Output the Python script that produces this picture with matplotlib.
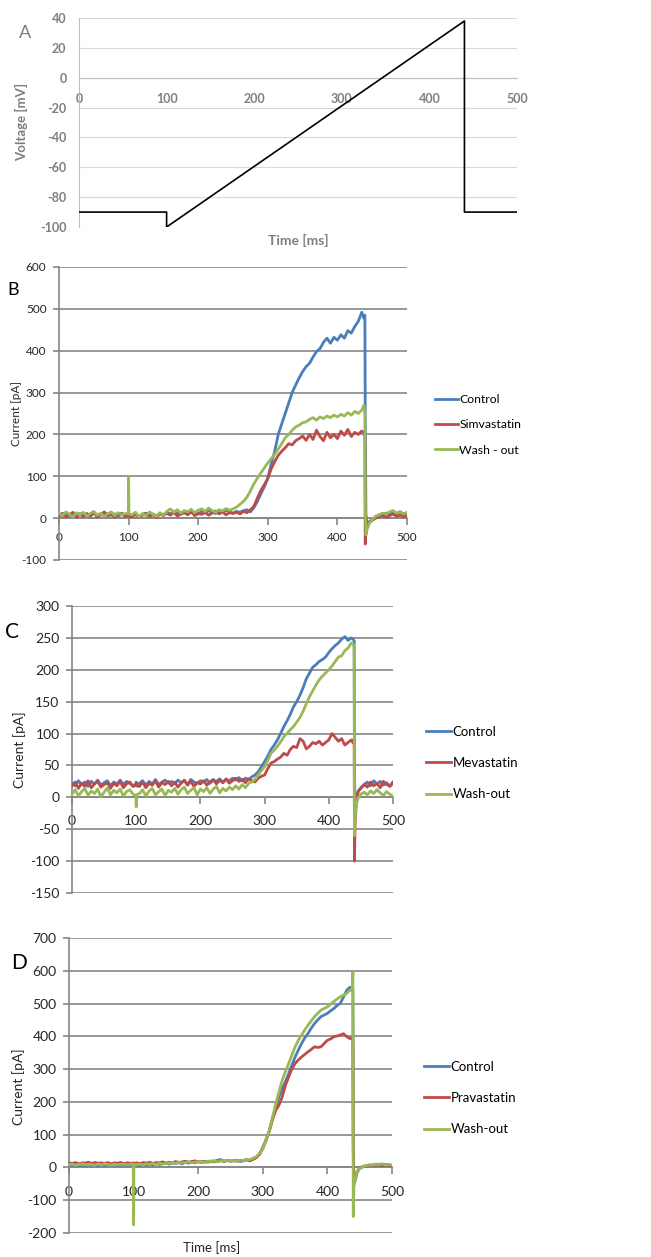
import matplotlib.pyplot as plt
import numpy as np

plt.rcParams['font.family'] = ['Lato', 'DejaVu Sans']
plt.rcParams['axes.unicode_minus'] = False

# ---- data ----
# voltage protocol (panel A)
volt_t = [0, 100, 100, 440, 440, 500]
volt_mv = [-90, -90, -100, 38, -90, -90]

# common time grid of the current traces (ms)
t_base = list(range(0, 100, 5))
t_spike = [99.5, 100, 100.5]
t_mid = list(range(105, 440, 5))
t_drop = [438, 439.5, 440, 441, 443, 446]
t_tail = list(range(450, 501, 5))
time_ms = t_base + t_spike + t_mid + t_drop + t_tail

# panel B
b_control = [10, 5, 12, 6, 9, 4, 11, 7, 10, 5, 12, 8, 9, 6, 11, 7, 10, 5, 9, 6,
             8, 10, 8,
             6, 10, 4, 9, 12, 7, 10, 5, 11, 8,
             14, 10, 16, 12, 9, 15, 11, 17, 13, 10,
             16, 12, 18, 14, 11, 17, 13, 19, 15, 12,
             16, 14, 18, 20, 15, 25, 40, 58, 75, 95,
             130, 160, 200, 225, 250, 275, 300, 318, 335, 350,
             362, 370, 385, 398, 405, 420, 430, 418, 432, 425,
             438, 430, 448, 442, 458, 470, 492,
             478, 485, 250, 10, -20, -8,
             -3, 2, 8, 5, 12, 9, 14, 10, 7, 11, 9]
b_simva = [5, 12, 3, 8, 14, 2, 9, 4, 11, 6, 13, 3, 8, 15, 5, 10, 2, 9, 12, 4,
           6, 8, 5,
           3, 9, 2, 7, 11, 4, 8, 1, 10, 6,
           12, 7, 14, 5, 10, 13, 8, 15, 6, 11,
           9, 14, 7, 12, 17, 10, 15, 8, 13, 11,
           14, 10, 16, 13, 20, 28, 48, 66, 80, 95,
           118, 135, 150, 160, 168, 178, 175, 185, 190, 196,
           186, 200, 188, 210, 195, 185, 205, 192, 200, 190,
           208, 198, 212, 195, 205, 200, 208,
           205, 195, -62, -30, -15, -10,
           -5, 0, 3, 8, 2, 6, 10, 4, 8, 3, 7]
b_wash = [12, 6, 15, 9, 3, 13, 8, 14, 5, 11, 16, 7, 12, 4, 10, 15, 6, 13, 8, 11,
          10, 97, 10,
          8, 14, 3, 11, 6, 15, 9, 4, 13, 7,
          16, 22, 14, 20, 12, 18, 15, 21, 13, 19,
          22, 16, 24, 18, 14, 20, 17, 23, 19, 22,
          26, 33, 40, 50, 65, 82, 95, 108, 120, 132,
          142, 152, 165, 178, 192, 200, 210, 218, 222, 228,
          230, 236, 240, 234, 242, 238, 244, 240, 246, 242,
          248, 244, 252, 246, 255, 250, 258,
          270, 250, 30, -40, -25, -12,
          -3, 5, 8, 12, 10, 15, 18, 12, 16, 10, 14]

# panel C
c_control = [22, 18, 26, 20, 24, 17, 25, 21, 27, 19, 23, 26, 18, 24, 21, 27, 20, 25, 22, 18,
             21, 24, 20,
             22, 26, 19, 25, 21, 28, 20, 24, 27, 22,
             25, 21, 27, 23, 26, 20, 28, 24, 22, 26,
             24, 28, 22, 27, 25, 29, 23, 28, 26, 30,
             27, 31, 26, 30, 28, 32, 35, 40, 48, 56,
             65, 75, 82, 90, 100, 111, 120, 130, 142, 150,
             160, 172, 186, 195, 204, 208, 213, 216, 220, 227,
             233, 238, 242, 248, 252, 246, 250,
             248, 245, 40, -20, 0, 10,
             15, 20, 24, 18, 26, 21, 25, 19, 23, 17, 22]
c_meva = [18, 24, 14, 22, 17, 26, 15, 21, 25, 16, 20, 23, 14, 22, 18, 25, 15, 21, 24, 17,
          19, 22, 18,
          17, 24, 15, 22, 19, 26, 16, 23, 20, 25,
          18, 24, 16, 22, 27, 19, 25, 17, 23, 21,
          26, 19, 24, 28, 21, 27, 23, 29, 22, 26,
          30, 25, 28, 23, 29, 26, 24, 30, 33, 35,
          45, 54, 56, 60, 63, 69, 66, 75, 80, 78,
          92, 88, 76, 80, 86, 84, 88, 82, 86, 90,
          100, 94, 88, 92, 82, 86, 90,
          85, 92, -100, -40, -5, 10,
          14, 20, 16, 24, 18, 22, 15, 25, 20, 18, 24]
c_wash = [5, 12, 2, 9, 14, 3, 10, 6, 13, 1, 8, 15, 4, 11, 7, 13, 2, 9, 12, 5,
          3, -15, 4,
          6, 12, 2, 10, 14, 4, 9, 13, 3, 11,
          8, 14, 5, 12, 16, 6, 11, 15, 4, 13,
          9, 15, 6, 13, 17, 7, 14, 10, 16, 12,
          18, 13, 20, 15, 22, 24, 28, 35, 42, 48,
          58, 69, 74, 80, 87, 95, 100, 106, 111, 118,
          125, 135, 147, 158, 167, 176, 184, 190, 195, 200,
          206, 213, 220, 222, 230, 234, 242,
          240, 236, -60, -30, -10, 0,
          5, 8, 4, 10, 6, 12, 7, 3, 9, 5, 2]

# panel D
d_control = [8, 5, 10, 6, 9, 4, 11, 7, 8, 5, 10, 6, 9, 7, 11, 5, 8, 10, 6, 9,
             8, 10, 7,
             9, 6, 11, 7, 10, 8, 12, 9, 11, 13,
             10, 14, 12, 15, 11, 16, 13, 17, 14, 18,
             15, 19, 16, 20, 17, 22, 24, 18, 21, 19,
             20, 22, 18, 21, 24, 20, 26, 31, 42, 61,
             85, 112, 150, 184, 215, 240, 262, 286, 312, 337,
             358, 378, 395, 409, 425, 439, 450, 460, 465, 470,
             478, 485, 494, 501, 520, 541, 550,
             545, 540, 100, -50, -40, -15,
             -3, 2, 5, 7, 6, 8, 10, 7, 9, 8, 6]
d_prava = [14, 12, 15, 11, 14, 13, 16, 12, 15, 13, 14, 12, 15, 11, 14, 13, 15, 12, 14, 13,
           13, 14, 12,
           14, 12, 15, 13, 16, 12, 15, 14, 17, 13,
           16, 14, 18, 15, 17, 19, 16, 18, 20, 17,
           18, 16, 19, 17, 20, 18, 21, 19, 22, 20,
           21, 19, 22, 20, 23, 21, 25, 30, 40, 58,
           82, 110, 145, 174, 190, 215, 250, 276, 300, 317,
           328, 337, 345, 353, 360, 368, 366, 368, 378, 388,
           392, 399, 401, 404, 408, 399, 393,
           395, 390, 50, -50, -35, -12,
           -2, 3, 5, 6, 8, 7, 9, 6, 8, 7, 5]
d_wash = [8, 10, 7, 9, 11, 8, 10, 9, 7, 10, 8, 11, 9, 7, 10, 8, 9, 11, 8, 10,
          10, -175, 8,
          9, 10, 8, 11, 10, 12, 9, 13, 11, 12,
          13, 15, 12, 16, 14, 15, 17, 14, 16, 18,
          17, 16, 19, 18, 20, 17, 21, 19, 22, 20,
          21, 20, 22, 21, 23, 24, 28, 33, 43, 56,
          82, 112, 152, 194, 230, 266, 292, 317, 343, 368,
          388, 404, 420, 434, 447, 460, 470, 480, 485, 490,
          498, 506, 514, 521, 526, 531, 541,
          540, 595, -150, -60, -35, -12,
          -3, 2, 6, 8, 7, 10, 9, 11, 8, 9, 7]

colors = ['#4A7EBB', '#BE4B48', '#98B954']

# ---- figure ----
W, H = 651, 1257
fig = plt.figure(figsize=(W / 100, H / 100), dpi=100)


def box(l, t, r, b):
    return [l / W, 1 - b / H, (r - l) / W, (b - t) / H]


# panel A
ax = fig.add_axes(box(79, 18, 517, 227))
ax.plot(volt_t, volt_mv, color='black', lw=1.2, zorder=3)
ax.set_xlim(0, 500)
ax.set_ylim(-100, 40)
ax.set_xticks(range(0, 501, 100))
ax.set_yticks(range(-100, 41, 20))
ax.grid(axis='y', color='#d9d9d9', lw=0.8)
ax.set_axisbelow(True)
for s in ['top', 'right']:
    ax.spines[s].set_visible(False)
ax.spines['bottom'].set_position(('data', 0))
ax.spines['bottom'].set_color('#bfbfbf')
ax.spines['left'].set_color('#bfbfbf')
ax.tick_params(axis='both', length=0, labelsize=9, labelcolor='#7f7f7f')
ax.tick_params(axis='x', pad=11)
ax.tick_params(axis='y', pad=9)
for lab in ax.get_xticklabels() + ax.get_yticklabels():
    lab.set_fontweight('bold')
fig.text(298 / W, 1 - 240 / H, 'Time [ms]', ha='center', va='center',
         fontsize=10, fontweight='bold', color='#7f7f7f')
fig.text(22 / W, 1 - 122 / H, 'Voltage [mV]', ha='center', va='center',
         rotation=90, fontsize=9.5, fontweight='bold', color='#7f7f7f')
fig.text(25 / W, 1 - 33 / H, 'A', ha='center', va='center', fontsize=13,
         color='#7f7f7f')


def current_panel(rect, traces, names, ylo, yhi, ystep, fs, xpad, leg_x, leg_y, leg_fs, leg_sp):
    ax = fig.add_axes(rect)
    for y, name, c in zip(traces, names, colors):
        ax.plot(time_ms, y, color=c, lw=2.0, label=name, zorder=3)
    ax.set_xlim(0, 500)
    ax.set_ylim(ylo, yhi)
    ax.set_xticks(range(0, 501, 100))
    ax.set_yticks(np.arange(ylo, yhi + 1, ystep))
    ax.grid(axis='y', color='#868686', lw=1.2)
    ax.set_axisbelow(True)
    for s in ['top', 'right']:
        ax.spines[s].set_visible(False)
    ax.spines['bottom'].set_position(('data', 0))
    ax.spines['bottom'].set_color('#868686')
    ax.spines['bottom'].set_linewidth(1.2)
    ax.spines['left'].set_color('#868686')
    ax.spines['left'].set_linewidth(1.2)
    ax.tick_params(axis='x', length=5, width=1.2, color='#868686', labelsize=fs,
                   labelcolor='#262626', pad=xpad)
    ax.tick_params(axis='y', length=4, width=1.2, color='#868686', labelsize=fs,
                   labelcolor='#262626', pad=5)
    ax.legend(loc='center left', bbox_to_anchor=(leg_x / W, 1 - leg_y / H),
              bbox_transform=fig.transFigure, frameon=False, fontsize=leg_fs,
              handlelength=1.9, handletextpad=0.1, labelspacing=leg_sp,
              borderpad=0, borderaxespad=0)
    return ax


current_panel(box(59, 267, 407, 560), [b_control, b_simva, b_wash],
              ['Control', 'Simvastatin', 'Wash - out'], -100, 600, 100,
              8.5, 5, 435, 425, 8.8, 1.15)
fig.text(16 / W, 1 - 413 / H, 'Current [pA]', ha='center', va='center',
         rotation=90, fontsize=8.5, color='#262626')
fig.text(13 / W, 1 - 290 / H, 'B', ha='center', va='center', fontsize=13)

current_panel(box(72, 606, 393, 893), [c_control, c_meva, c_wash],
              ['Control', 'Mevastatin', 'Wash-out'], -150, 300, 50,
              10, 8, 426, 763, 9.5, 1.45)
fig.text(20 / W, 1 - 750 / H, 'Current [pA]', ha='center', va='center',
         rotation=90, fontsize=10, color='#262626')
fig.text(12 / W, 1 - 632 / H, 'C', ha='center', va='center', fontsize=15)

current_panel(box(69, 938, 392, 1233), [d_control, d_prava, d_wash],
              ['Control', 'Pravastatin', 'Wash-out'], -200, 700, 100,
              10, 8, 424, 1098, 9.5, 1.45)
fig.text(19 / W, 1 - 1087 / H, 'Current [pA]', ha='center', va='center',
         rotation=90, fontsize=10, color='#262626')
fig.text(212 / W, 1 - 1248 / H, 'Time [ms]', ha='center', va='center',
         fontsize=9.5, color='#262626')
fig.text(19 / W, 1 - 963 / H, 'D', ha='center', va='center', fontsize=15)

fig.savefig('out.png', dpi=100)
